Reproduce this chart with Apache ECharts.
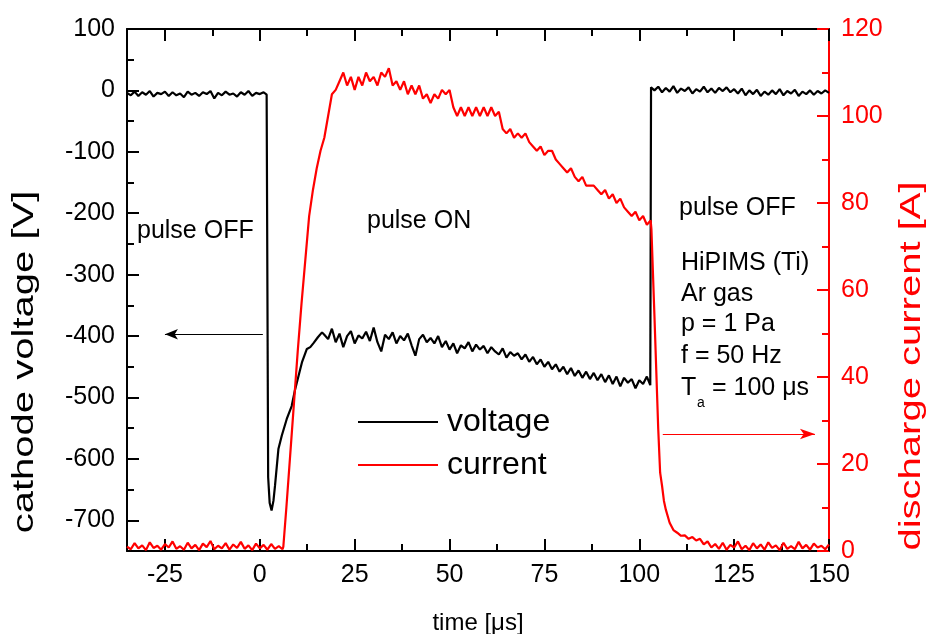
<!DOCTYPE html>
<html>
<head>
<meta charset="utf-8">
<script src="https://cdn.jsdelivr.net/npm/echarts@6/dist/echarts.min.js"></script>
<style>
  html, body { margin: 0; padding: 0; background: #fff; }
  #chart { width: 928px; height: 634px; }
</style>
</head>
<body>
<div id="chart"></div>
<script>
// tick positions
var xTicks = [-25, 0, 25, 50, 75, 100, 125, 150];
var xMinorTicks = [-12.5, 12.5, 37.5, 62.5, 87.5, 112.5, 137.5];
var voltageTicks = [-700, -600, -500, -400, -300, -200, -100, 0, 100];
var voltageMinorTicks = [-650, -550, -450, -350, -250, -150, -50, 50];

// cathode voltage [V] vs time [us]
var voltageBefore = [
    [-35,-4],[-34,-8],[-33,-2],[-32,-9],[-31,-3],[-30,-7],[-29,-1],[-28,-10],[-27,-4],[-26,-6],
    [-25,-2],[-24,-9],[-23,-3],[-22,-8],[-21,-5],[-20,-11],[-19,-2],[-18,-7],[-17,-4],[-16,-9],
    [-15,-3],[-14,-6],[-13,-1],[-12,-13],[-11,-4],[-10,-8],[-9,-2],[-8,-7],[-7,-5],[-6,-10],
    [-5,-3],[-4,-7],[-3,-1],[-2,-9],[-1,-4],[0,-6],[1,-3],[1.8,-7],[2.0,-10]
];
var voltagePulse = [
    [2.2,-630],[2.6,-672],[3.1,-684],[3.6,-668],[4,-644],[4.9,-584],[5.8,-562],[7.1,-535],
    [8.4,-514],[9.3,-487],[10.2,-465],[11.1,-443],[12.4,-421],[13.3,-418],[14.2,-411],[15.3,-402],[16.4,-394],
    [17,-398],[18,-405],[19,-388],[20,-410],[21,-396],[22,-418],[23,-400],[24,-392],[25,-412],[26,-399],
    [27,-404],[28,-393],[29,-408],[30,-386],[31,-410],[32,-425],[33,-398],[34,-405],[35,-394],[36,-412],
    [37,-400],[38,-407],[39,-396],[40,-415],[41,-432],[42,-405],[43,-398],[44,-410],[45,-403],[46,-412],
    [47,-400],[48,-418],[49,-408],[50,-422],[51,-412],[52,-428],[53,-415],[54,-420],[55,-410],[56,-425],
    [57,-414],[58,-422],[59,-416],[60,-428],[61,-418],[62,-425],[63,-430],[64,-420],[65,-435],[66,-426],
    [67,-432],[68,-428],[69,-438],[70,-430],[71,-442],[72,-434],[73,-446],[74,-438],[75,-450],[76,-442],
    [77,-454],[78,-446],[79,-458],[80,-450],[81,-462],[82,-452],[83,-465],[84,-456],[85,-468],[86,-458],
    [87,-470],[88,-460],[89,-472],[90,-462],[91,-475],[92,-464],[93,-478],[94,-466],[95,-482],[96,-468],
    [97,-476],[98,-470],[99,-485],[100,-472],[101,-478],[102,-466],[102.9,-480]
];
var voltageAfter = [
    [103.1,5],[104,0],[105,6],[106,-3],[107,4],[108,-2],[109,7],[110,-4],[111,3],[112,-1],
    [113,5],[114,-5],[115,2],[116,-2],[117,6],[118,-3],[119,3],[120,-4],[121,4],[122,-1],
    [123,5],[124,-3],[125,2],[126,-5],[127,3],[128,-8],[129,0],[130,-6],[131,1],[132,-9],
    [133,-2],[134,-7],[135,0],[136,-6],[137,2],[138,-8],[139,-1],[140,-5],[141,1],[142,-9],
    [143,-2],[144,-6],[145,0],[146,-7],[147,-1],[148,-5],[149,0],[150,-4]
];

// discharge current [A] vs time [us]
var currentBefore = [
    [-35,1.0],[-34,0.4],[-33,1.8],[-32,0.6],[-31,1.3],[-30,0.2],[-29,2.0],[-28,0.7],[-27,1.2],[-26,0.3],
    [-25,1.6],[-24,0.8],[-23,2.2],[-22,0.5],[-21,1.1],[-20,0.3],[-19,1.9],[-18,0.6],[-17,1.4],[-16,0.2],
    [-15,1.7],[-14,0.9],[-13,2.3],[-12,0.4],[-11,1.2],[-10,0.6],[-9,1.8],[-8,0.3],[-7,1.5],[-6,0.7],
    [-5,2.1],[-4,0.5],[-3,1.3],[-2,0.2],[-1,1.7],[0,0.6],[1,1.4],[2,0.3],[3,1.6],[4,0.5],
    [5,1.1],[6,0.4],[6.2,1.0]
];
var currentPulse = [
    [7,10],[8,22],[9,34],[10,46],[11,57],[12,67],[13,77],[14,83],[15,88],[16,92],[17,95],[18,100],
    [19,105],[20,106],[21,108],[22,110],[23,107],[24,109],[25,106],[26,109],[27,107],[28,110],[29,108],
    [30,109],[31,107],[32,110],[33,109],[34,111],[35,107],[36,108],[37,106],[38,108],[39,105],[40,107],
    [41,105],[42,107],[43,104],[44,105],[45,103],[46,105],[47,104],[48,106],[49,105],[50,106],[51,102],
    [52,100],[53,102],[54,100],[55,102],[56,100],[57,102],[58,100],[59,102],[60,100],[61,102],[62,100],
    [63,101],[64,97],[65,96],[66,97],[67,95],[68,96],[69,95],[70,96],[71,94],[72,93],[73,92],[74,93],
    [75,91],[76,92],[77,92],[78,90],[79,89],[80,88],[81,87],[82,88],[83,86],[84,85],[85,86],[86,84],
    [87,84],[88,84],[89,83],[90,82],[91,83],[92,81],[93,82],[94,80],[95,81],[96,79],[97,78],[98,77],
    [99,78],[100,76],[101,77],[102,75],[103,76]
];
var currentAfter = [
    [103.2,74],[104,54],[105,28],[105.5,18],[106,15],[106.5,11.5],[107,9.5],[108,6.5],[109,4.8],
    [110,4.2],[111,3.5],[112,3.6],[113,2.8],[114,3.2],[115,2.4],[116,2.8],[117,1.5],[118,2.2],[119,0.8],
    [120,1.6],[121,0.5],[122,1.9],[123,0.3],[124,1.4],[125,0.8],[126,2.2],[127,0.4],[128,1.2],[129,0.2],
    [130,1.8],[131,0.6],[132,1.5],[133,0.3],[134,2.0],[135,0.7],[136,1.3],[137,0.2],[138,1.9],[139,0.5],
    [140,1.1],[141,0.4],[142,2.1],[143,0.6],[144,1.4],[145,0.3],[146,1.7],[147,0.8],[148,1.2],[149,0.4],
    [150,1.5]
];

var voltage = voltageBefore.concat(voltagePulse, voltageAfter);
var current = currentBefore.concat(currentPulse, currentAfter);

var FONT = 'Liberation Sans';
var RED = '#ff0000';

var myChart = echarts.init(document.getElementById('chart'));

function xAxisOf(position, ticks, len, showLine, showLabel) {
    return {
        type: 'value',
        position: position,
        min: -35,
        max: 150,
        axisLine: { show: showLine, onZero: false, lineStyle: { color: '#000', width: 2 } },
        axisTick: { inside: true, length: len, customValues: ticks, lineStyle: { color: '#000', width: 2 } },
        axisLabel: {
            show: showLabel,
            customValues: xTicks,
            margin: 12,
            fontSize: 25,
            color: '#000',
            fontFamily: FONT
        },
        splitLine: { show: false }
    };
}

function textAt(text, x, y, size, color) {
    return {
        type: 'text',
        x: x,
        y: y,
        style: {
            text: text,
            fill: color || '#000',
            font: (size || 25) + 'px "' + FONT + '"',
            align: 'left',
            verticalAlign: 'middle'
        }
    };
}

var option = {
    animation: false,
    backgroundColor: '#fff',
    grid: { left: 127, right: 99, top: 29, bottom: 83 },
    legend: {
        orient: 'vertical',
        left: 353,
        top: 401,
        itemWidth: 80,
        itemHeight: 2,
        itemGap: 11,
        icon: 'rect',
        textStyle: { fontSize: 32, color: '#000', fontFamily: FONT, padding: [0, 0, 0, 4] },
        data: ['voltage', 'current']
    },
    xAxis: [
        xAxisOf('bottom', xTicks, 12, true, true),
        xAxisOf('bottom', xMinorTicks, 7, false, false),
        xAxisOf('top', xTicks, 12, true, false),
        xAxisOf('top', xMinorTicks, 7, false, false)
    ],
    yAxis: [
        {
            type: 'value',
            position: 'left',
            min: -750,
            max: 100,
            axisLine: { show: true, onZero: false, lineStyle: { color: '#000', width: 2 } },
            axisTick: { inside: true, length: 12, customValues: voltageTicks, lineStyle: { color: '#000', width: 2 } },
            axisLabel: { customValues: voltageTicks, margin: 12, fontSize: 25, color: '#000', fontFamily: FONT },
            splitLine: { show: false }
        },
        {
            type: 'value',
            position: 'left',
            min: -750,
            max: 100,
            axisLine: { show: false, onZero: false },
            axisTick: { inside: true, length: 7, customValues: voltageMinorTicks, lineStyle: { color: '#000', width: 2 } },
            axisLabel: { show: false },
            splitLine: { show: false }
        },
        {
            type: 'value',
            position: 'right',
            min: 0,
            max: 120,
            interval: 20,
            axisLine: { show: true, onZero: false, lineStyle: { color: RED, width: 2 } },
            axisTick: { inside: true, length: 12, lineStyle: { color: RED, width: 2 } },
            minorTick: { show: true, splitNumber: 2, length: 7, lineStyle: { color: RED, width: 2 } },
            axisLabel: { margin: 12, fontSize: 25, color: RED, fontFamily: FONT },
            splitLine: { show: false }
        }
    ],
    series: [
        {
            name: 'voltage',
            type: 'line',
            xAxisIndex: 0,
            yAxisIndex: 0,
            data: voltage,
            showSymbol: false,
            color: '#000',
            lineStyle: { color: '#000', width: 2.2 },
            markLine: {
                silent: true,
                symbol: ['none', 'arrow'],
                symbolSize: [8, 13],
                label: { show: false },
                lineStyle: { color: '#000', width: 1, type: 'solid' },
                data: [[{ coord: [0.8, -397] }, { coord: [-25, -397] }]]
            }
        },
        {
            name: 'current',
            type: 'line',
            xAxisIndex: 0,
            yAxisIndex: 2,
            data: current,
            showSymbol: false,
            color: RED,
            lineStyle: { color: RED, width: 2.2 },
            markLine: {
                silent: true,
                symbol: ['none', 'arrow'],
                symbolSize: [8, 15],
                label: { show: false },
                lineStyle: { color: RED, width: 1, type: 'solid' },
                data: [[{ coord: [106.2, 26.9] }, { coord: [146.3, 26.9] }]]
            }
        }
    ],
    graphic: [
        textAt('pulse OFF', 137, 231),
        textAt('pulse ON', 367, 221),
        textAt('pulse OFF', 679, 208),
        textAt('HiPIMS (Ti)', 681, 263),
        textAt('Ar gas', 681, 294),
        textAt('p = 1 Pa', 681, 324),
        textAt('f = 50 Hz', 681, 356),
        textAt('T', 681, 388),
        textAt('a', 697, 403, 14),
        textAt('= 100 μs', 712, 388),
        {
            type: 'text',
            x: 478,
            y: 623,
            style: { text: 'time [μs]', fill: '#000', font: '24px "' + FONT + '"', align: 'center', verticalAlign: 'middle' }
        },
        {
            type: 'text',
            x: 25,
            y: 362,
            rotation: Math.PI / 2,
            scaleX: 1.38,
            style: { text: 'cathode voltage [V]', fill: '#000', font: '29px "' + FONT + '"', align: 'center', verticalAlign: 'middle' }
        },
        {
            type: 'text',
            x: 912,
            y: 366,
            rotation: Math.PI / 2,
            scaleX: 1.38,
            style: { text: 'discharge current [A]', fill: RED, font: '29px "' + FONT + '"', align: 'center', verticalAlign: 'middle' }
        }
    ]
};

myChart.setOption(option);
</script>
</body>
</html>
